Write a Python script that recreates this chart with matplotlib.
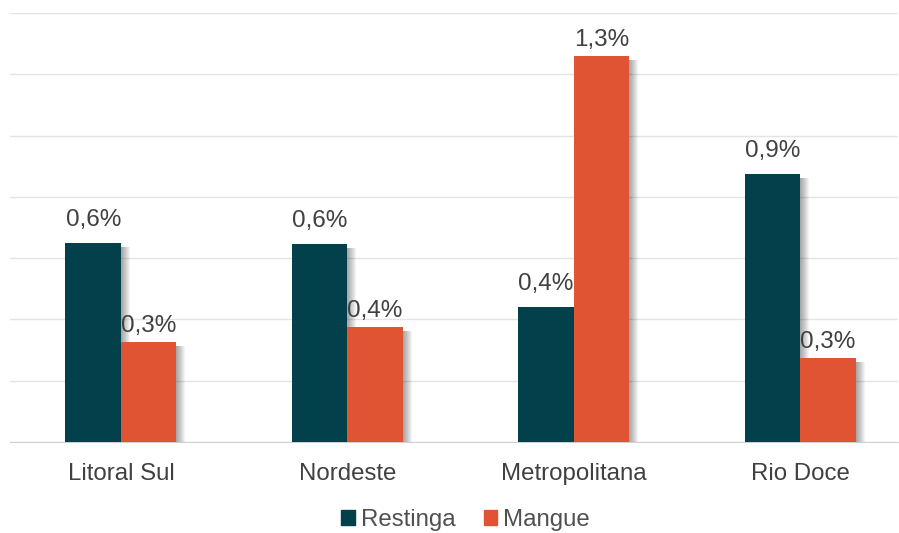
import matplotlib
matplotlib.use("Agg")
import matplotlib.pyplot as plt
from matplotlib.patches import Rectangle, Patch
import numpy as np

plt.rcParams['font.family'] = ['Liberation Sans', 'DejaVu Sans']

categories = ["Litoral Sul", "Nordeste", "Metropolitana", "Rio Doce"]
restinga = [0.648, 0.645, 0.44, 0.873]
mangue = [0.326, 0.375, 1.26, 0.274]
restinga_labels = ["0,6%", "0,6%", "0,4%", "0,9%"]
mangue_labels = ["0,3%", "0,4%", "1,3%", "0,3%"]

c_rest = "#02414B"
c_mang = "#E05434"
txt = "#404040"

fig = plt.figure(figsize=(8.99, 5.33), dpi=100)
ax = fig.add_axes([0.011, 0.1707, 0.988, 0.805])

x = np.arange(len(categories))
w = 0.245
px_x = 1 / 226.3        # data units per pixel
px_y = 1.4 / 429

def shadow(xc, h):
    # soft drop shadow to the right, a bit below the bar top
    for k in range(1, 10):
        ax.add_patch(Rectangle((xc - w / 2, 0), w + k * px_x, h - 4 * px_y,
                               color="black", alpha=0.045, lw=0, zorder=2))

for i in range(len(categories)):
    shadow(x[i] - w / 2, restinga[i])
    shadow(x[i] + w / 2, mangue[i])

ax.bar(x - w / 2, restinga, w, color=c_rest, zorder=3)
ax.bar(x + w / 2, mangue, w, color=c_mang, zorder=3)

for i in range(len(categories)):
    ax.text(x[i] - w / 2, restinga[i] + 0.04, restinga_labels[i], ha="center", va="bottom",
            fontsize=17.5, color=txt, zorder=4)
    ax.text(x[i] + w / 2, mangue[i] + 0.016, mangue_labels[i], ha="center", va="bottom",
            fontsize=17.5, color=txt, zorder=4)

ax.set_xlim(-0.4905, 3.433)
ax.set_ylim(0, 1.4)
ax.set_yticks(np.arange(0, 1.41, 0.2))
ax.yaxis.grid(True, color="#e4e4e4", lw=1)
ax.set_axisbelow(True)
ax.tick_params(axis="y", left=False, labelleft=False)
ax.tick_params(axis="x", length=0, pad=15, labelsize=17.3, labelcolor=txt)
ax.set_xticks(x)
ax.set_xticklabels(categories)
for s in ["top", "right", "left"]:
    ax.spines[s].set_visible(False)
ax.spines["bottom"].set_color("#d0d0d0")

handles = [Patch(color=c_rest, label="Restinga"), Patch(color=c_mang, label="Mangue")]
fig.legend(handles=handles, loc="lower center", bbox_to_anchor=(0.518, -0.037), ncol=2,
           frameon=False, fontsize=17.3, labelcolor="#505050", handlelength=0.55,
           handleheight=0.55, handletextpad=0.25, columnspacing=1.2)

fig.savefig("out.png", dpi=100)
